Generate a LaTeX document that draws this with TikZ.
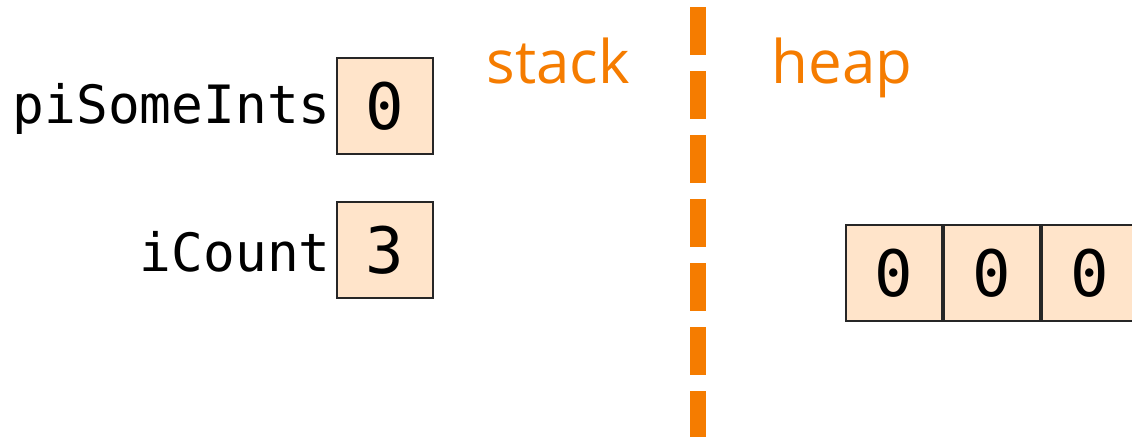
\documentclass[tikz,border=0pt]{standalone}
\usepackage{fontspec}
\setmonofont{DejaVu Sans Mono}
\newfontfamily\orangefont{Open Sans}
\usepackage{tikz}
\usetikzlibrary{positioning}
\definecolor{peach}{RGB}{255,228,202}
\definecolor{memorange}{RGB}{245,124,0}
\tikzset{
    cell/.style={draw=black!85, line width=1pt, fill=peach, minimum size=48pt, inner sep=0pt, font=\fontsize{32}{32}\selectfont\ttfamily},
    varname/.style={inner sep=0pt, anchor=base east, font=\fontsize{26.4}{26.4}\selectfont\ttfamily},
    region/.style={inner sep=0pt, anchor=base, text=memorange, font=\fontsize{30}{30}\selectfont\orangefont}
}

\begin{document}
\begin{tikzpicture}[x=0.5pt, y=-0.5pt]
            \useasboundingbox (0,0) rectangle (1132,436);
            % stack / heap divider
            \draw[memorange, line width=8pt, dash pattern=on 24pt off 8pt] (698,7) -- (698,470);
            \node[region] (stack) at (558,83) {stack};
            \node[region] (heap) at (842,83) {heap};
            % variables on the stack
            \node[cell] (some) at (385,106) {0};
            \node[cell] (count) at (385,250) {3};
            \node[varname] (somename) at (331,123) {piSomeInts};
            \node[varname] (countname) at (331,271) {iCount};
            % array on the heap
            \node[cell] (arr0) at (894,273) {0};
            \node[cell, right=0pt of arr0] (arr1) {0};
            \node[cell, right=0pt of arr1] (arr2) {0};
        \end{tikzpicture}
\end{document}
